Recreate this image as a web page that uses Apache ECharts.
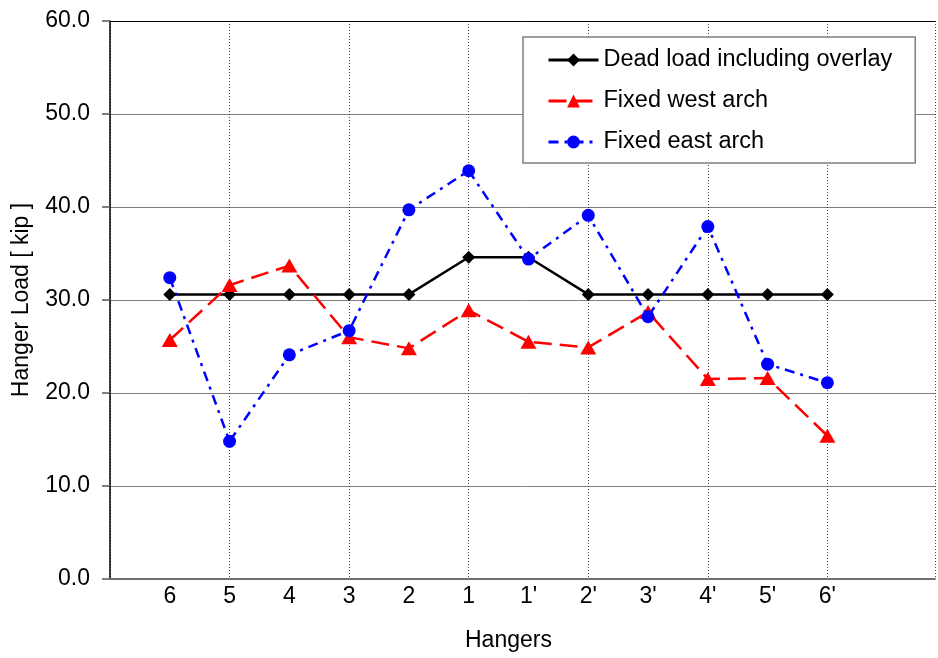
<!DOCTYPE html>
<html><head><meta charset="utf-8">
<script src="https://cdn.jsdelivr.net/npm/echarts@6/dist/echarts.min.js"></script>
<style>html,body{margin:0;padding:0;background:#fff}#c{width:938px;height:658px}</style>
</head><body><div id="c"></div>
<script>
const hangerLabels = ['6','5','4','3','2','1',"1'","2'","3'","4'","5'","6'"];
const hangerPos = [1,2,3,4,5,6,7,8,9,10,11,12];
const deadLoad = [30.6,30.6,30.6,30.6,30.6,34.6,34.6,30.6,30.6,30.6,30.6,30.6];
const fixedWest = [25.7,31.6,33.7,26.0,24.8,28.9,25.5,24.9,28.7,21.5,21.6,15.4];
const fixedEast = [32.4,14.8,24.1,26.7,39.7,43.9,34.4,39.1,28.2,37.9,23.1,21.1];
const seriesNames = ['Dead load including overlay','Fixed west arch','Fixed east arch'];

const FONT = "'Liberation Sans', Arial, sans-serif";
const FS = 23;
const pair = arr => hangerPos.map((x, i) => [x, arr[i]]);

const chart = echarts.init(document.getElementById('c'), null, {renderer: 'canvas'});
chart.setOption({
  animation: false,
  backgroundColor: '#fff',
  textStyle: {fontFamily: FONT},
  title: {
    text: 'Hangers', left: 460, top: 624,
    textStyle: {fontFamily: FONT, fontSize: FS, fontWeight: 'normal', color: '#000'}
  },
  grid: {left: 110, right: 0, top: 21, bottom: 79, containLabel: false},
  legend: {
    orient: 'vertical', left: 523, top: 37,
    backgroundColor: '#fff', borderColor: '#808080', borderWidth: 1.5,
    padding: [11, 23, 9, 24], itemGap: 17, itemWidth: 50, itemHeight: 16,
    lineStyle: {width: 3},
    textStyle: {fontFamily: FONT, fontSize: 23.5, color: '#000'},
    data: seriesNames
  },
  xAxis: [{
    type: 'value', min: 0, max: 13.8, interval: 1, position: 'bottom',
    axisLine: {show: true, lineStyle: {color: '#707070', width: 2}},
    axisTick: {show: false},
    splitLine: {show: false},
    axisLabel: {
      margin: 6, fontSize: FS, color: '#000', fontFamily: FONT,
      formatter: v => { const i = hangerPos.indexOf(v); return i >= 0 ? hangerLabels[i] : ''; }
    }
  }, {
    type: 'value', min: 0, max: 13.8, interval: 2, position: 'top',
    axisLine: {show: true, lineStyle: {color: '#000', width: 1}},
    axisTick: {show: false}, axisLabel: {show: false},
    splitLine: {show: true, lineStyle: {color: '#444', width: 1, type: [1, 2]}}
  }],
  yAxis: {
    type: 'value', min: 0, max: 60, interval: 10,
    name: 'Hanger Load [ kip ]', nameLocation: 'middle', nameGap: 77, nameRotate: 90,
    nameTextStyle: {fontFamily: FONT, fontSize: FS, color: '#000'},
    axisLine: {show: true, lineStyle: {color: '#000', width: 1.5}},
    axisTick: {show: true, inside: false, length: 8, lineStyle: {color: '#555', width: 1.5}},
    axisLabel: {margin: 20, fontSize: FS, color: '#000', fontFamily: FONT, formatter: v => v.toFixed(1)},
    splitLine: {show: true, lineStyle: {color: '#808080', width: 1}}
  },
  series: [{
    name: seriesNames[0], type: 'line', data: pair(deadLoad),
    symbol: 'diamond', symbolSize: 13,
    lineStyle: {color: '#000', width: 2.5, type: 'solid'},
    itemStyle: {color: '#000'}
  }, {
    name: seriesNames[1], type: 'line', data: pair(fixedWest),
    symbol: 'triangle', symbolSize: [16, 14],
    lineStyle: {color: '#ff0000', width: 2.5, type: [18, 8]},
    itemStyle: {color: '#ff0000'}
  }, {
    name: seriesNames[2], type: 'line', data: pair(fixedEast),
    symbol: 'circle', symbolSize: 13,
    lineStyle: {color: '#0000ff', width: 2.5, type: [10, 6, 3, 6]},
    itemStyle: {color: '#0000ff'}
  }]
});
</script></body></html>
